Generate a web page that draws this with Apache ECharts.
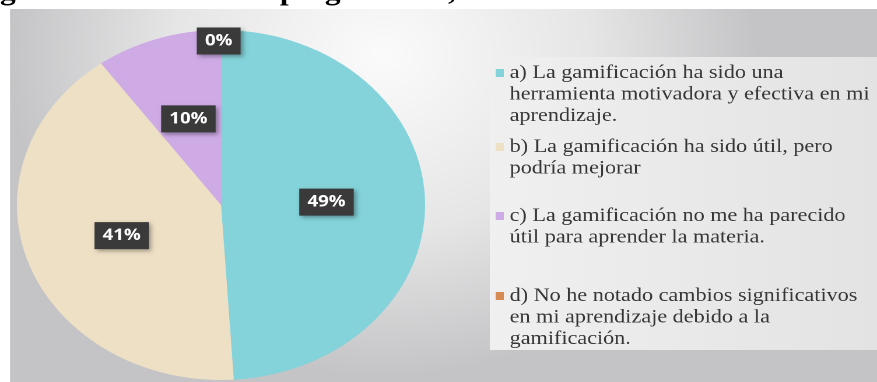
<!DOCTYPE html>
<html>
<head>
<meta charset="utf-8">
<script src="https://cdn.jsdelivr.net/npm/echarts@6/dist/echarts.min.js"></script>
<style>
  html, body { margin: 0; padding: 0; background: #ffffff; overflow: hidden; }
  #wrap { width: 877px; height: 382px; overflow: hidden; position: relative; }
  /* the chart is laid out narrower and then widened, giving the oval pie and wide lettering */
  #chart { width: 752px; height: 382px; transform: scaleX(1.16622); transform-origin: 0 0; }
</style>
</head>
<body>
<div id="wrap"><div id="chart"></div></div>
<script>
// Answer options for question 8 (line breaks follow the legend layout)
const categories = [
  'a) La gamificación ha sido una\nherramienta motivadora y efectiva en mi\naprendizaje.',
  'b) La gamificación ha sido útil, pero\npodría mejorar',
  'c) La gamificación no me ha parecido\nútil para aprender la materia.',
  'd) No he notado cambios significativos\nen mi aprendizaje debido a la\ngamificación.'
];
// Share of students per option, in percent
const values = [49, 41, 10, 0];
const colors = ['#84d3da', '#eee0c5', '#cfabe6', '#d58a52'];
const titleText = 'Figura No. Resultados pregunta No, 8 encuesta estudiantes UCS';

const RADIUS = 175;
const CENTER = [189.5, 205];
const LINE_H = 21.5;
const ICON_W = 7;
const ICON_SQ = 8;
const legendFirstLine = [73, 147, 216, 296];
const SERIF = 'Liberation Serif';

const chart = echarts.init(document.getElementById('chart'), null, { renderer: 'canvas', devicePixelRatio: 2 });

// one legend block per option so each can sit at its own height;
// the marker path carries an empty point below the square so the
// square lines up with the first text line
const legends = categories.map(function (name, i) {
  const lines = name.split('\n').length;
  const h = ICON_SQ + LINE_H * (lines - 1);
  return {
    orient: 'vertical',
    left: 425,
    top: legendFirstLine[i] - LINE_H / 2,
    padding: 0,
    itemGap: 0,
    itemWidth: ICON_W,
    itemHeight: h,
    selectedMode: false,
    data: [{ name: name, icon: 'path://M0,0H' + ICON_W + 'V' + ICON_SQ + 'H0Z M0,' + h }],
    textStyle: {
      fontFamily: SERIF,
      fontSize: 19,
      lineHeight: LINE_H,
      color: '#363636'
    }
  };
});

chart.setOption({
  animation: false,
  graphic: [
    {
      type: 'text', z: -20, left: -24, top: -21,
      style: {
        text: titleText,
        font: 'bold 27px ' + SERIF,
        fill: '#000000'
      }
    },
    {
      type: 'rect', z: -10,
      shape: { x: 8.6, y: 9, width: 760, height: 380 },
      style: {
        fill: new echarts.graphic.RadialGradient(0.42, 0.12, 0.85, [
          { offset: 0, color: '#fbfbfb' },
          { offset: 0.55, color: '#e6e6e7' },
          { offset: 1, color: '#c4c4c6' }
        ])
      }
    },
    {
      type: 'rect', z: -5,
      shape: { x: 420, y: 57, width: 340, height: 293 },
      style: {
        fill: new echarts.graphic.LinearGradient(0, 0, 1, 0, [
          { offset: 0, color: '#f0f0f0' },
          { offset: 1, color: '#e3e3e3' }
        ])
      }
    }
  ],
  legend: legends,
  series: [{
    type: 'pie',
    center: CENTER,
    radius: [0, RADIUS],
    startAngle: 90,
    clockwise: true,
    avoidLabelOverlap: false,
    silent: true,
    data: categories.map(function (name, i) {
      return { name: name, value: values[i], itemStyle: { color: colors[i] } };
    }),
    itemStyle: { borderWidth: 0 },
    label: {
      show: true,
      position: 'inside',
      formatter: '{c}%',
      fontFamily: 'Open Sans',
      fontWeight: 'bold',
      fontSize: 16,
      color: '#ffffff',
      backgroundColor: '#3a3a3a',
      padding: [6, 7, 5, 7],
      shadowBlur: 4,
      shadowOffsetX: 2,
      shadowOffsetY: 2,
      shadowColor: 'rgba(0,0,0,0.35)'
    },
    labelLine: { show: false },
    // an empty slice keeps its label near the rim instead of the middle
    labelLayout: function (p) {
      return values[p.dataIndex] === 0 ? { dx: -2, dy: -RADIUS * 0.42 } : {};
    }
  }]
});
</script>
</body>
</html>
